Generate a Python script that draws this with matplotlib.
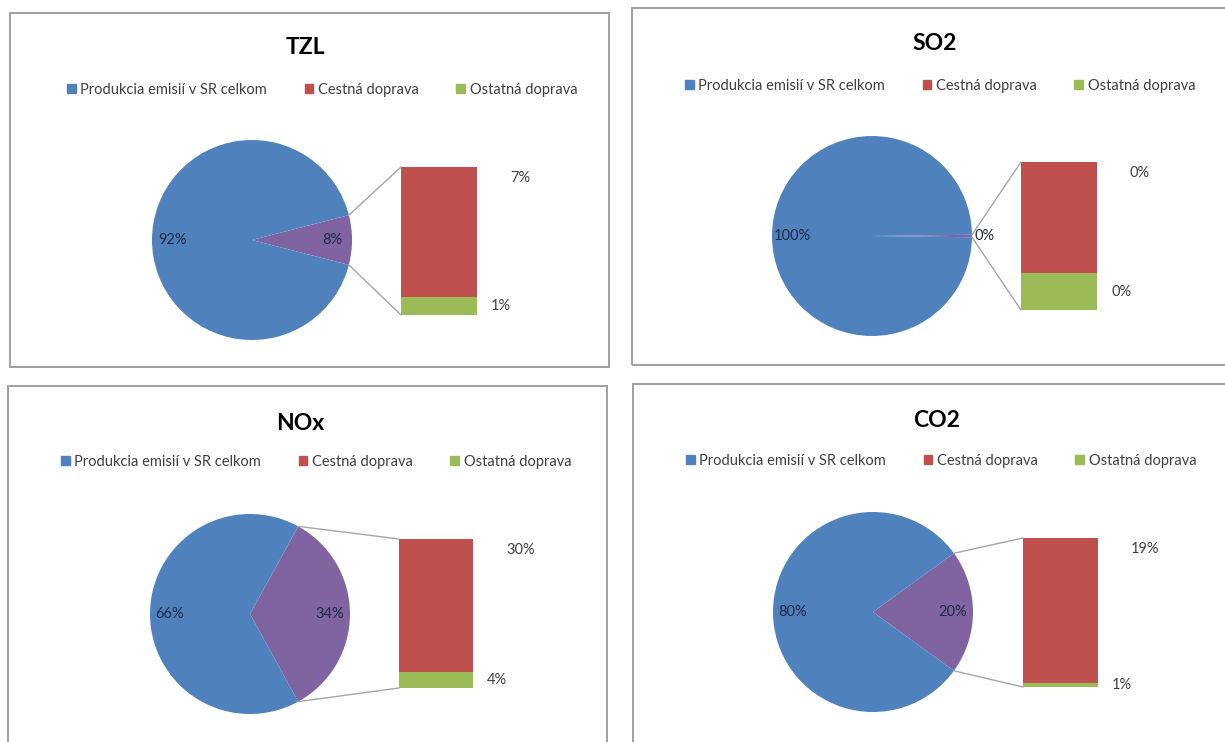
import matplotlib
matplotlib.use("Agg")
import matplotlib.pyplot as plt
from matplotlib.patches import Patch, Rectangle, ConnectionPatch
import numpy as np

plt.rcParams["font.family"] = ["Lato", "DejaVu Sans"]

W, H = 1225, 742
BLUE, PURPLE, RED, GREEN = "#4f81bd", "#8064a2", "#c0504d", "#9bbb59"
LINE = "#a6a6a6"

TITLES = ["TZL", "SO2", "NOx", "CO2"]
LEGEND = ["Produkcia emisií v SR celkom", "Cestná doprava", "Ostatná doprava"]
# share of national emissions, % (the rest = transport)
TOTAL = [92, 99.6, 66, 80]
# transport split, %
ROAD = [7, 0.3, 30.3, 19.4]
OTHER = [1, 0.1, 3.7, 0.6]

# pixel layout per panel: box (x0, y0, x1, y1), title xy, legend xy, pie centre, bar (x0, x1, y0, y1)
LAYOUT = [
    dict(box=(10, 13, 609, 367), title=(305, 48), leg=(322, 90), pie=(252, 240), bar=(401, 477, 167, 315)),
    dict(box=(632, 8, 1232, 365), title=(935, 44), leg=(940, 86), pie=(872, 236), bar=(1021, 1097, 162, 310)),
    dict(box=(8, 386, 607, 752), title=(300, 424), leg=(316, 462), pie=(250, 614), bar=(399, 473, 539, 688)),
    dict(box=(633, 384, 1232, 752), title=(937, 421), leg=(941, 461), pie=(873, 612), bar=(1023, 1098, 538, 687)),
]
R = 100  # pie radius, px


def fx(x):
    return x / W


def fy(y):
    return 1 - y / H


fig = plt.figure(figsize=(W / 100, H / 100), dpi=100)
fig.patch.set_facecolor("white")

handles = [Patch(color=c) for c in (BLUE, RED, GREEN)]

for i, lay in enumerate(LAYOUT):
    bx0, by0, bx1, by1 = lay["box"]
    fig.add_artist(Rectangle((fx(bx0), fy(by1)), (bx1 - bx0) / W, (by1 - by0) / H,
                             transform=fig.transFigure, fill=False, edgecolor="#a0a0a0", lw=1.4))
    fig.text(fx(lay["title"][0]), fy(lay["title"][1]), TITLES[i], ha="center", va="center",
             fontsize=16.5, weight="bold", color="black")
    fig.legend(handles, LEGEND, loc="center", bbox_to_anchor=(fx(lay["leg"][0]), fy(lay["leg"][1])),
               ncol=3, frameon=False, fontsize=10.5, handlelength=0.6, handleheight=0.6,
               handletextpad=0.3, columnspacing=2.6, labelcolor="#404040")

    # pie of totals, transport wedge centred at 0 degrees
    cx, cy = lay["pie"]
    axp = fig.add_axes([fx(cx - R), fy(cy + R), 2 * R / W, 2 * R / H])
    tr = ROAD[i] + OTHER[i]
    half = tr / 100 * 360 / 2
    wedges, _, autot = axp.pie([tr, TOTAL[i]], colors=[PURPLE, BLUE], startangle=-half,
                               autopct=lambda p: f"{p:.0f}%", pctdistance=0.8,
                               textprops=dict(fontsize=10.5, color="#1f2a44"),
                               wedgeprops=dict(linewidth=0))
    if tr < 1:
        autot[0].set_position((1.13, 0))
    axp.set_xlim(-1, 1); axp.set_ylim(-1, 1); axp.axis("off")

    # bar of transport split
    x0, x1, y0, y1 = lay["bar"]
    axb = fig.add_axes([fx(x0), fy(y1), (x1 - x0) / W, (y1 - y0) / H])
    axb.bar(0, OTHER[i], width=1, color=GREEN, linewidth=0)
    axb.bar(0, ROAD[i], bottom=OTHER[i], width=1, color=RED, linewidth=0)
    axb.set_xlim(-0.5, 0.5); axb.set_ylim(0, tr); axb.axis("off")
    axb.annotate(f"{ROAD[i]:.0f}%", xy=(0.5, tr), xytext=(33, -11), textcoords="offset pixels",
                 ha="left", va="center", fontsize=10.5, color="#404040", annotation_clip=False)
    axb.annotate(f"{OTHER[i]:.0f}%", xy=(0.5, OTHER[i] / 2), xytext=(14, 0), textcoords="offset pixels",
                 ha="left", va="center", fontsize=10.5, color="#404040", annotation_clip=False)

    # connector lines from wedge edges to bar corners
    a = np.radians(half)
    for sgn, yb in ((1, tr), (-1, 0)):
        fig.add_artist(ConnectionPatch(xyA=(np.cos(a), sgn * np.sin(a)), coordsA=axp.transData,
                                       xyB=(-0.5, yb), coordsB=axb.transData, color=LINE, lw=1))

fig.savefig("out.png", dpi=100, facecolor="white")
